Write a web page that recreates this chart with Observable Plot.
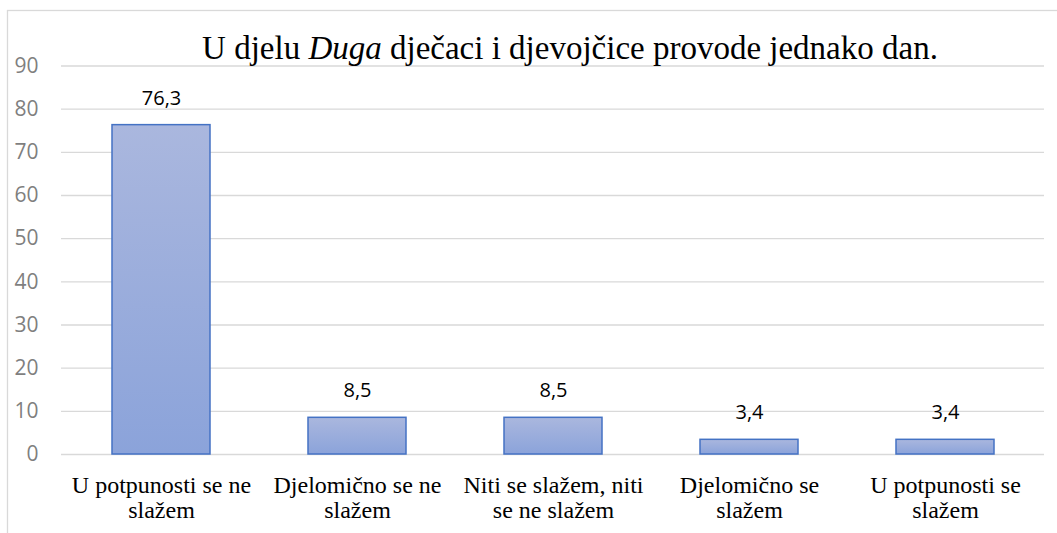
<!DOCTYPE html>
<html>
<head>
<meta charset="utf-8">
<script src="https://cdn.jsdelivr.net/npm/d3@7"></script>
<script src="https://cdn.jsdelivr.net/npm/@observablehq/plot@0.6"></script>
<style>
  html, body { margin: 0; padding: 0; background: #fff; }
</style>
</head>
<body>
<div id="chart"></div>
<script>
const categories = [
  "U potpunosti se ne\nslažem",
  "Djelomično se ne\nslažem",
  "Niti se slažem, niti\nse ne slažem",
  "Djelomično se\nslažem",
  "U potpunosti se\nslažem"
];
const values = [76.3, 8.5, 8.5, 3.4, 3.4];
const yTicks = [0, 10, 20, 30, 40, 50, 60, 70, 80, 90];
const titleParts = [
  {text: "U djelu ", italic: false},
  {text: "Duga", italic: true},
  {text: " dječaci i djevojčice provode jednako dan.", italic: false}
];

const SERIF = "Liberation Serif";
const SANS = "Open Sans";

const data = categories.map((c, i) => ({category: c, value: values[i]}));
const fmt = v => String(v).replace(".", ",");

const chart = Plot.plot({
  width: 1057,
  height: 533,
  marginTop: 65.5,
  marginBottom: 79,
  marginLeft: 61,
  marginRight: 13,
  style: {background: "#fff"},
  x: {domain: categories, paddingInner: 0.5, paddingOuter: 0.25, axis: null, label: null},
  y: {domain: [0, 90], axis: null, label: null},
  marks: [
    Plot.ruleY(yTicks, {stroke: "#d9d9d9", strokeWidth: 1.3}),
    Plot.barY(data, {x: "category", y: "value", fill: "url(#barGrad)", stroke: "#4472c4", strokeWidth: 1.5}),
    Plot.text(data, {x: "category", y: "value", text: d => fmt(d.value), dy: -27,
      fontFamily: SANS, fontSize: 20, fill: "#000"}),
    Plot.axisY({ticks: yTicks, tickSize: 0, tickPadding: 23, fontSize: 21, label: null,
      fontFamily: SANS, fill: "#7f7f7f", tickFormat: d => String(d)}),
    Plot.axisX({tickSize: 0, tickPadding: 20.5, fontSize: 24, lineHeight: 1.04, label: null,
      fontFamily: SERIF, fill: "#000", tickFormat: d => d})
  ]
});

const svg = d3.select(chart);
const defs = svg.insert("defs", ":first-child");
const grad = defs.append("linearGradient").attr("id", "barGrad")
  .attr("x1", 0).attr("y1", 0).attr("x2", 0).attr("y2", 1);
grad.append("stop").attr("offset", "0%").attr("stop-color", "#aab7de");
grad.append("stop").attr("offset", "100%").attr("stop-color", "#8ba3da");

svg.insert("rect", "defs + *")
  .attr("x", 7.5).attr("y", 10.5).attr("width", 1100).attr("height", 600)
  .attr("fill", "none").attr("stroke", "#d9d9d9").attr("stroke-width", 1.3);

const title = svg.append("text")
  .attr("x", 570).attr("y", 59)
  .attr("text-anchor", "middle")
  .attr("font-family", SERIF)
  .attr("font-size", 33)
  .attr("fill", "#000");
titleParts.forEach(p => {
  const t = title.append("tspan").text(p.text);
  if (p.italic) t.attr("font-style", "italic");
});

document.getElementById("chart").appendChild(chart);
</script>
</body>
</html>
